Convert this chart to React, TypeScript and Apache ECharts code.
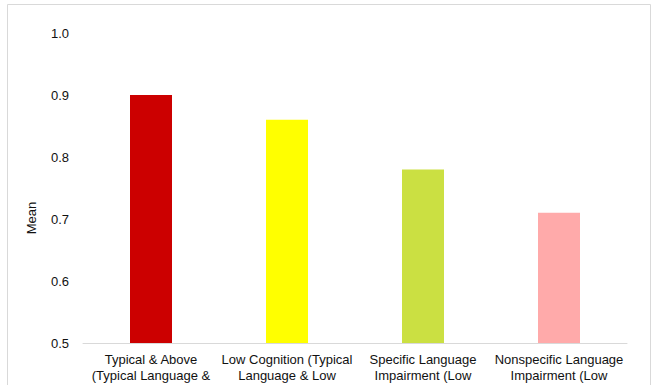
import React, { useEffect, useRef } from "react";
import * as echarts from "echarts";

const categories = [
  "Typical & Above\n(Typical Language &",
  "Low Cognition (Typical\nLanguage & Low",
  "Specific Language\nImpairment (Low",
  "Nonspecific Language\nImpairment (Low",
];
const meanValues = [0.9, 0.86, 0.78, 0.71];
const barColors = ["#cc0000", "#ffff00", "#cbe042", "#ffaaaa"];
const yTicks = { min: 0.5, max: 1.0, interval: 0.1 };
const yAxisTitle = "Mean";

const FONT = "'Liberation Sans', Arial, sans-serif";

export default function App() {
  const ref = useRef<HTMLDivElement>(null);
  useEffect(() => {
    document.body.style.margin = "0";
    if (!ref.current) return;
    const chart = echarts.init(ref.current, null, { renderer: "svg" });
    chart.setOption({
      animation: false,
      backgroundColor: "#ffffff",
      grid: { left: 83, right: 27, top: 33, bottom: 42, containLabel: false },
      xAxis: {
        type: "category",
        data: categories,
        axisLine: { show: true, lineStyle: { color: "#d9d9d9", width: 1 } },
        axisTick: { show: false },
        axisLabel: {
          interval: 0,
          margin: 8,
          color: "#111111",
          fontFamily: FONT,
          fontSize: 13,
          lineHeight: 16,
        },
      },
      yAxis: {
        type: "value",
        min: yTicks.min,
        max: yTicks.max,
        interval: yTicks.interval,
        axisLine: { show: false },
        axisTick: { show: false },
        splitLine: { show: false },
        axisLabel: {
          margin: 14,
          color: "#111111",
          fontFamily: FONT,
          fontSize: 13,
          formatter: (v: number) => v.toFixed(1),
        },
      },
      graphic: [
        {
          type: "rect",
          silent: true,
          shape: { x: 7.5, y: 4.5, width: 643, height: 420 },
          style: { fill: "none", stroke: "#d9d9d9", lineWidth: 1 },
          z: -1,
        },
        {
          type: "text",
          x: 31,
          y: 218,
          rotation: Math.PI / 2,
          style: {
            text: yAxisTitle,
            fill: "#111111",
            font: `13px ${FONT}`,
            align: "center",
            verticalAlign: "middle",
          },
        },
      ],
      series: [
        {
          type: "bar",
          barWidth: 42,
          data: meanValues.map((v, i) => ({
            value: v,
            itemStyle: { color: barColors[i] },
          })),
        },
      ],
    });
    return () => chart.dispose();
  }, []);
  return <div ref={ref} style={{ width: 654, height: 385 }} />;
}
